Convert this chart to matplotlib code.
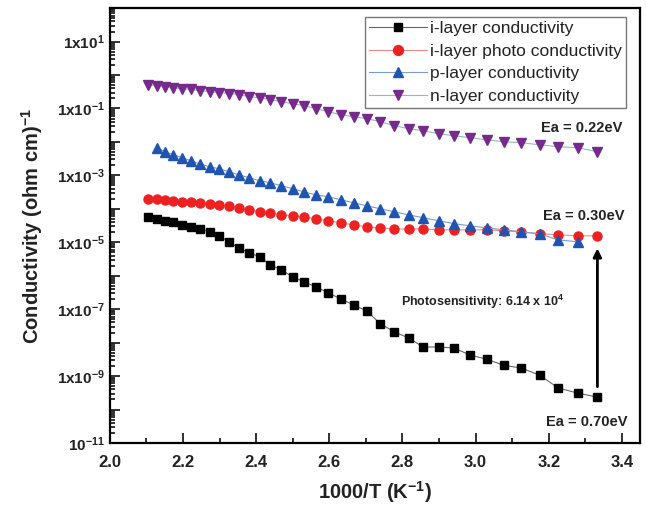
import matplotlib; matplotlib.use('Agg')
import matplotlib.pyplot as plt
import matplotlib.ticker as mticker
import math

plt.rcParams['font.family'] = ['Liberation Sans', 'DejaVu Sans']
plt.rcParams['mathtext.fontset'] = 'custom'
plt.rcParams['mathtext.rm'] = 'Liberation Sans:bold'
plt.rcParams['mathtext.bf'] = 'Liberation Sans:bold'
plt.rcParams['mathtext.default'] = 'bf'

# 1000/T values (K^-1)
x_all = [2.105, 2.128, 2.151, 2.174, 2.198, 2.222, 2.247, 2.273, 2.299, 2.326,
         2.353, 2.381, 2.410, 2.439, 2.469, 2.500, 2.532, 2.564, 2.597, 2.632,
         2.667, 2.703, 2.740, 2.778, 2.817, 2.857, 2.899, 2.941, 2.985, 3.030,
         3.077, 3.125, 3.175, 3.226, 3.279, 3.333]
x_p = x_all[1:35]

i_dark = [5.75e-5, 5.0e-5, 4.4e-5, 4.1e-5, 3.3e-5, 2.9e-5, 2.5e-5, 2.05e-5, 1.56e-5, 1.03e-5,
          6.8e-6, 4.8e-6, 3.7e-6, 2.1e-6, 1.5e-6, 9.2e-7, 6.5e-7, 4.6e-7, 3.1e-7, 2.0e-7,
          1.34e-7, 8.8e-8, 3.6e-8, 2.1e-8, 1.37e-8, 7.4e-9, 7.4e-9, 6.9e-9, 4.25e-9, 3.2e-9,
          2.1e-9, 1.74e-9, 1.07e-9, 4.4e-10, 3.1e-10, 2.35e-10]
i_photo = [1.99e-4, 1.99e-4, 1.86e-4, 1.74e-4, 1.62e-4, 1.62e-4, 1.51e-4, 1.41e-4, 1.32e-4, 1.23e-4,
           1.07e-4, 9.3e-5, 8.1e-5, 7.6e-5, 6.6e-5, 6.2e-5, 5.75e-5, 5.0e-5, 4.4e-5, 3.8e-5,
           3.3e-5, 2.9e-5, 2.7e-5, 2.5e-5, 2.5e-5, 2.5e-5, 2.35e-5, 2.35e-5, 2.35e-5, 2.35e-5,
           2.2e-5, 2.05e-5, 1.8e-5, 1.67e-5, 1.56e-5, 1.56e-5]
p_layer = [6.7e-3, 5.1e-3, 4.1e-3, 3.4e-3, 2.7e-3, 2.2e-3, 1.8e-3, 1.58e-3, 1.28e-3, 1.04e-3,
           8.5e-4, 6.9e-4, 6.0e-4, 4.9e-4, 4.0e-4, 3.2e-4, 2.6e-4, 2.3e-4, 1.86e-4, 1.51e-4,
           1.23e-4, 1.0e-4, 8.1e-5, 6.6e-5, 5.4e-5, 4.4e-5, 3.6e-5, 3.1e-5, 2.7e-5, 2.35e-5,
           2.05e-5, 1.78e-5, 1.18e-5, 1.03e-5]
n_layer = [5.2e-1, 4.8e-1, 4.5e-1, 4.2e-1, 3.9e-1, 3.7e-1, 3.4e-1, 3.2e-1, 3.0e-1, 2.8e-1,
           2.6e-1, 2.25e-1, 2.1e-1, 1.83e-1, 1.6e-1, 1.39e-1, 1.21e-1, 9.9e-2, 8.0e-2, 6.5e-2,
           5.7e-2, 4.95e-2, 4.0e-2, 3.05e-2, 2.5e-2, 2.16e-2, 1.76e-2, 1.53e-2, 1.34e-2, 1.16e-2,
           1.01e-2, 9.5e-3, 8.2e-3, 7.2e-3, 6.7e-3, 5.1e-3]

labels = ['i-layer conductivity', 'i-layer photo conductivity',
          'p-layer conductivity', 'n-layer conductivity']

fig = plt.figure(figsize=(6.46, 5.08), dpi=100)
ax = fig.add_axes([0.170, 0.128, 0.821, 0.856])

ax.plot(x_all, i_dark, '-', color='#666666', lw=0.8, marker='s', ms=5.5,
        mfc='black', mec='black', label=labels[0])
ax.plot(x_all, i_photo, '-', color='#f08a8a', lw=0.8, marker='o', ms=6.5,
        mfc='#ee2020', mec='#ee2020', label=labels[1])
ax.plot(x_p, p_layer, '-', color='#7a9ad8', lw=0.8, marker='^', ms=7,
        mfc='#1f55b0', mec='#1f55b0', label=labels[2])
ax.plot(x_all, n_layer, '-', color='#8cbcbc', lw=0.8, marker='v', ms=7,
        mfc='#762a8c', mec='#762a8c', label=labels[3])

ax.set_yscale('log')
ax.set_ylim(1e-11, 1e2)
ax.set_xlim(2.0, 3.45)
ax.xaxis.set_major_locator(mticker.MultipleLocator(0.2))
ax.xaxis.set_minor_locator(mticker.MultipleLocator(0.1))
ax.xaxis.set_major_formatter(mticker.FormatStrFormatter('%.1f'))

ax.yaxis.set_major_locator(mticker.LogLocator(base=10, numticks=20))
ax.yaxis.set_minor_locator(mticker.LogLocator(base=10, subs=range(2, 10), numticks=20))


def ylab(v, pos):
    e = int(round(math.log10(v)))
    if e % 2 == 0 or e > 1:
        return ''
    if e == -11:
        return r'$10^{%d}$' % e
    return r'$1x10^{%d}$' % e


ax.yaxis.set_major_formatter(mticker.FuncFormatter(ylab))
ax.yaxis.set_minor_formatter(mticker.NullFormatter())

ax.tick_params(which='both', direction='in', colors='#222222', width=1.3)
ax.tick_params(which='major', length=7, labelsize=12)
ax.tick_params(which='minor', length=3.5)
ax.tick_params(axis='y', labelsize=11)
ax.tick_params(axis='x', pad=9)
for lab in ax.get_xticklabels():
    lab.set_fontweight('bold')
for s in ax.spines.values():
    s.set_linewidth(1.6)

ax.set_xlabel(r'1000/T (K$^{-1}$)', fontsize=14.5, fontweight='bold', color='#222222',
              labelpad=6)
ax.set_ylabel(r'Conductivity (ohm cm)$^{-1}$', fontsize=14.5, fontweight='bold',
              color='#222222', labelpad=9)

leg = ax.legend(loc='upper right', fontsize=12.5, handlelength=3.3, labelspacing=0.42,
                borderpad=0.25, handletextpad=0.2, fancybox=False, markerscale=1.1,
                bbox_to_anchor=(0.99, 1.0))
leg.get_frame().set_edgecolor('#555555')
leg.get_frame().set_linewidth(1.0)
for t in leg.get_texts():
    t.set_color('#222222')

ax.text(3.29, 10**-1.575, 'Ea = 0.22eV', fontsize=10.5, fontweight='bold',
        ha='center', va='center', color='#222222')
ax.text(3.295, 10**-4.21, 'Ea = 0.30eV', fontsize=10.5, fontweight='bold',
        ha='center', va='center', color='#222222')
ax.text(3.305, 10**-10.38, 'Ea = 0.70eV', fontsize=10.5, fontweight='bold',
        ha='center', va='center', color='#222222')
ax.text(3.02, 10**-6.78, r'Photosensitivity: 6.14 x 10$^{4}$', fontsize=9,
        fontweight='bold', ha='center', va='center', color='#222222')
ax.annotate('', xy=(3.333, 10**-5.1), xytext=(3.333, 10**-9.4),
            arrowprops=dict(arrowstyle='-|>', color='black', lw=2, mutation_scale=12))

fig.savefig('out.png', dpi=100)
